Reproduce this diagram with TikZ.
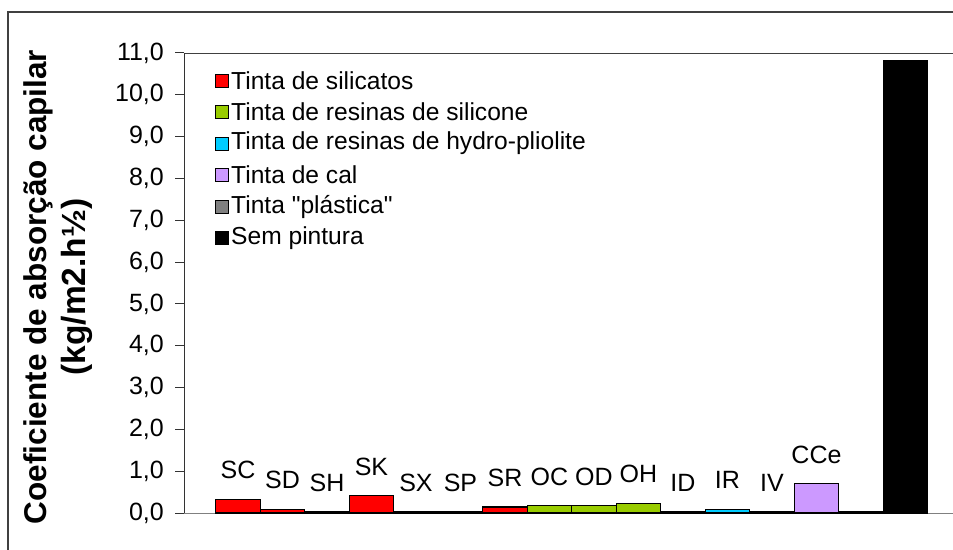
\documentclass[tikz,border=0pt]{standalone}
\usepackage{fontspec}
\setmainfont{Liberation Sans}[Ligatures=TeXOff]
\definecolor{cred}{HTML}{FF0000}
\definecolor{cgreen}{HTML}{99CC00}
\definecolor{ccyan}{HTML}{00CCFF}
\definecolor{clav}{HTML}{CC99FF}
\definecolor{cgray}{HTML}{808080}
\definecolor{frame}{HTML}{404040}
\begin{document}
\begin{tikzpicture}[x=1pt,y=-1pt,
  barbox/.style={draw=black,line width=1.4pt},
  lbl/.style={inner sep=0pt,font=\fontsize{25}{25}\selectfont},
  ticklbl/.style={inner sep=0pt,anchor=east,font=\fontsize{25}{25}\selectfont},
  legtxt/.style={inner sep=0pt,anchor=west,font=\fontsize{24.6}{24.6}\selectfont},
  legbox/.style={draw=black,line width=1pt},
  ttl/.style={inner sep=0pt,rotate=90,font=\bfseries\fontsize{31.5}{31.5}\selectfont}]
\useasboundingbox (0,0) rectangle (953,549);
\fill[white] (0,0) rectangle (953,549);
% outer frame
\draw[frame,line width=1.3pt] (8,560) -- (8,12) -- (960,12);
% plot area top border
\draw[frame,line width=1pt] (184,53) -- (960,53);
% axes
\draw[gray,line width=1pt] (184,513) -- (960,513);
\draw[black!80,line width=1pt] (184,53) -- (184,513);
\foreach \k in {0,...,11}{
  \draw[black!80,line width=1pt] (175,513-\k*41.82) -- (184,513-\k*41.82);
  \node[ticklbl] (t\k) at (164,513-\k*41.82) {\k,0};
}
% bars
\foreach \i/\v/\c/\lab in {0/0.33/cred/SC,1/0.09/cred/SD,2/0.02/cred/SH,3/0.42/cred/SK,
  4/0.02/cred/SX,5/0.02/cred/SP,6/0.14/cred/SR,7/0.18/cgreen/OC,8/0.18/cgreen/OD,
  9/0.23/cgreen/OH,10/0.02/ccyan/ID,11/0.09/ccyan/IR,12/0.02/ccyan/IV,13/0.70/clav/CCe}{
  \draw[barbox,fill=\c] (215.7+44.5*\i,513) rectangle ++(44.5,-\v*41.82);
  \node[lbl] (b\i) at (215.7+44.5*\i+22.25,513-\v*41.82-29) {\lab};
}
\draw[barbox,fill=cgray] (215.7+44.5*14,513) rectangle ++(44.5,-0.02*41.82);
\draw[barbox,fill=black] (215.7+44.5*15,513) rectangle ++(44.5,-10.82*41.82);
% legend
\foreach \r/\c/\t in {0/cred/Tinta de silicatos,1/cgreen/Tinta de resinas de silicone,
  2/ccyan/Tinta de resinas de hydro-pliolite,3/clav/Tinta de cal,
  4/cgray/Tinta "plástica",5/black/Sem pintura}{
  \draw[legbox,fill=\c] (215,80.5+31.5*\r-6.5) rectangle ++(13,13);
  \node[legtxt] (leg\r) at (231,80.5+31.5*\r) {\t};
}
% axis title
\node[ttl] (ttlA) at (38,287) {Coeficiente de absorção capilar};
\node[ttl,font=\bfseries\fontsize{33.5}{33.5}\selectfont] (ttlB) at (77,287) {(kg/m2.h½)};
\end{tikzpicture}
\end{document}
